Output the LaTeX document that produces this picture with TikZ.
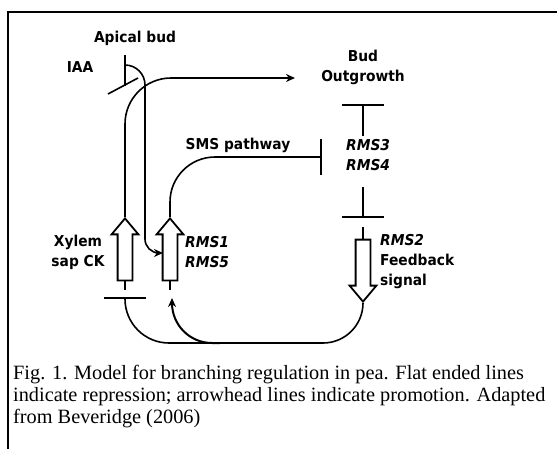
\documentclass[tikz,border=0pt]{standalone}
\usepackage{fontspec}
\setmainfont{Liberation Serif}
\newfontfamily\labfont[FakeStretch=0.92]{DejaVu Sans}
\usetikzlibrary{shapes.arrows,arrows.meta}

\tikzset{
  lab/.style={font=\labfont\bfseries\fontsize{15}{20}\selectfont, align=center, inner sep=0pt},
  gene/.style={font=\labfont\bfseries\itshape\fontsize{15}{20}\selectfont, align=left, inner sep=0pt, anchor=west},
  link/.style={line width=1.6pt},
  promote/.style={link, -{Stealth[length=9pt,width=8pt]}},
  repress/.style={link, -{Bar[width=#1]}},
  fatarrow/.style={single arrow, draw, line width=1.8pt, minimum height=62pt, inner xsep=0pt, inner ysep=6.5pt,
    single arrow head extend=6pt, single arrow tip angle=80, anchor=tip},
}

\begin{document}
\begin{tikzpicture}[x=1pt,y=-1pt]
\useasboundingbox (0,0) rectangle (557,448);
%% frame
\draw[line width=2.5pt] (8,470) -- (8,12) -- (580,12);
%% labels
\node[lab] (apical) at (135,38) {Apical bud};
\node[lab] (iaa) at (80,67) {IAA};
\node[lab] (budout) at (363,67) {Bud\\Outgrowth};
\node[lab] (sms) at (238,145) {SMS pathway};
\node[gene] (rmsthree) at (346,155) {RMS3\\RMS4};
\node[lab] (xylem) at (78,252) {Xylem\\sap CK};
\node[gene] (rmsone) at (185,252) {RMS1\\RMS5};
\node[lab, align=left, anchor=west] (rmstwo) at (380,262) {\textit{RMS2}\\Feedback\\signal};
%% block arrows
\node[fatarrow, rotate=90] (xylarrow) at (125,217) {};
\node[fatarrow, rotate=90] (rmsarrow) at (170,217) {};
\node[fatarrow, rotate=-90] (fbarrow) at (363,303) {};
%% points
\coordinate (stemtop) at (125,55);
\coordinate (stembot) at (125,86);
\coordinate (iaabar1) at (108,94);
\coordinate (iaabar2) at (138,78);
\coordinate (iaastart) at (125,65);
\coordinate (iaaend) at (163,253);
\coordinate (budend) at (295,78);
\coordinate (smsbar) at (322,157);
\coordinate (budbar) at (363,104);
\coordinate (topstub) at (363,136);
\coordinate (lowstub) at (363,187);
\coordinate (rmstwobar) at (363,218);
\coordinate (fbtop) at (363,227);
\coordinate (ckbar) at (125,297);
\coordinate (loopstart) at (220,343);
\coordinate (loopend) at (172,298);
%% apical bud and IAA
\draw[link] (stemtop) -- (stembot);
\draw[link] (iaabar1) -- (iaabar2);
\draw[promote, rounded corners=20pt] (iaastart) -- (145,65) [rounded corners=14pt] -- (145,253) -- (iaaend);
%% xylem CK to bud outgrowth
\draw[promote, rounded corners=46pt] (xylarrow.tip) -- (125,78) -- (budend);
\draw[link] (xylarrow.tail) -- ++(0,9);
\draw[link] (rmsarrow.tail) -- ++(0,9);
%% SMS pathway
\draw[repress=36pt, rounded corners=45pt] (rmsarrow.tip) -- (170,157) -- (smsbar);
%% RMS3 RMS4
\draw[repress=42pt] (topstub) -- (budbar);
\draw[repress=42pt] (lowstub) -- (rmstwobar);
\draw[link] (fbtop) -- (fbarrow.tail);
%% feedback signal
\draw[repress=42pt, rounded corners=40pt] (fbarrow.tip) -- (363,343) [rounded corners=44pt] -- (125,343) -- (ckbar);
\draw[promote, line width=2pt, rounded corners=40pt] (loopstart) -- (172,343) -- (loopend);
%% caption
\node[anchor=north west, align=left, inner sep=0pt, font=\fontsize{20.3}{22}\selectfont] (caption) at (13,365)
  {Fig. 1. Model for branching regulation in pea. Flat ended lines\\
   indicate repression; arrowhead lines indicate promotion. Adapted\\
   from Beveridge (2006)};
\end{tikzpicture}
\end{document}
